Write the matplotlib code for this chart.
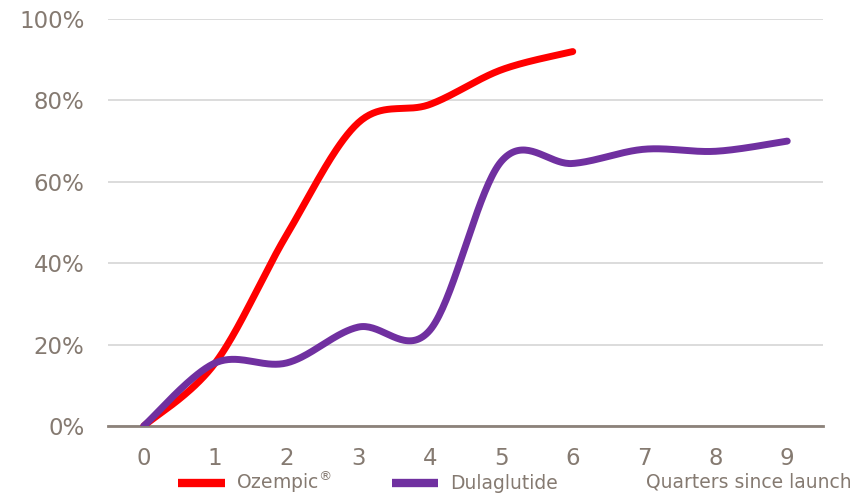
import numpy as np
import matplotlib
matplotlib.use("Agg")
import matplotlib.pyplot as plt
from matplotlib.ticker import FuncFormatter

# ---- data ----
quarters = [0, 1, 2, 3, 4, 5, 6, 7, 8, 9]
ozempic_q = [0, 1, 2, 3, 4, 5, 6]
ozempic = [0.0, 0.155, 0.47, 0.745, 0.79, 0.875, 0.92]
dula_q = [0, 1, 2, 3, 4, 5, 6, 7, 8, 9]
dula = [0.0, 0.155, 0.155, 0.243, 0.235, 0.65, 0.645, 0.68, 0.675, 0.70]
y_ticks = [0, 0.2, 0.4, 0.6, 0.8, 1.0]
series_names = ["Ozempic$^{\\circledR}$", "Dulaglutide"]
x_title = "Quarters since launch"

TEXT = "#857a71"
AXIS = "#8c827a"
GRID = "#d9d9d9"
RED = "#ff0000"
PURPLE = "#7030a0"


def smooth(x, y, n=40):
    """Catmull-Rom style smoothing (like spreadsheet 'smoothed line')."""
    x = np.asarray(x, float)
    y = np.asarray(y, float)
    px = np.concatenate([[x[0]], x, [x[-1]]])
    py = np.concatenate([[y[0]], y, [y[-1]]])
    xs, ys = [], []
    for i in range(1, len(px) - 2):
        mx0 = (px[i + 1] - px[i - 1]) / 2
        mx1 = (px[i + 2] - px[i]) / 2
        my0 = (py[i + 1] - py[i - 1]) / 2
        my1 = (py[i + 2] - py[i]) / 2
        t = np.linspace(0, 1, n)
        h00 = 2 * t**3 - 3 * t**2 + 1
        h10 = t**3 - 2 * t**2 + t
        h01 = -2 * t**3 + 3 * t**2
        h11 = t**3 - t**2
        xs.append(h00 * px[i] + h10 * mx0 + h01 * px[i + 1] + h11 * mx1)
        ys.append(h00 * py[i] + h10 * my0 + h01 * py[i + 1] + h11 * my1)
    return np.concatenate(xs), np.concatenate(ys)


fig = plt.figure(figsize=(8.57, 4.94), dpi=100)
ax = fig.add_axes([108 / 857, 1 - 426 / 494, (823 - 108) / 857, (426 - 19) / 494])

sx, sy = smooth(ozempic_q, ozempic)
ax.plot(sx, sy, color=RED, lw=5, solid_capstyle="round", label=series_names[0], zorder=3)
sx, sy = smooth(dula_q, dula)
ax.plot(sx, sy, color=PURPLE, lw=5, solid_capstyle="round", label=series_names[1], zorder=4)

ax.set_xlim(-0.5, 9.5)
ax.set_ylim(0, 1.0)
ax.set_xticks(quarters)
ax.set_yticks(y_ticks)
ax.yaxis.set_major_formatter(FuncFormatter(lambda v, p: f"{v*100:.0f}%"))
ax.grid(axis="y", color=GRID, lw=1.3)
ax.set_axisbelow(True)
for s in ["top", "right", "left"]:
    ax.spines[s].set_visible(False)
ax.spines["bottom"].set_color(AXIS)
ax.spines["bottom"].set_linewidth(2)
ax.spines["bottom"].set_zorder(2)
ax.tick_params(axis="both", length=0, colors=TEXT, labelsize=16.5)
ax.tick_params(axis="y", pad=17)
ax.tick_params(axis="x", pad=15)

leg = ax.legend(loc="center left", bbox_to_anchor=(178 / 857, 1 - 482 / 494), bbox_transform=fig.transFigure,
                ncol=2, frameon=False, fontsize=13.5, handlelength=2.5, handletextpad=0.6,
                columnspacing=3.2, borderpad=0, borderaxespad=0)
for t in leg.get_texts():
    t.set_color(TEXT)
for h in leg.get_lines():
    h.set_linewidth(6)
    h.set_solid_capstyle("butt")

fig.text(852 / 857, 1 - 482 / 494, x_title, ha="right", va="center", fontsize=13.5, color=TEXT)

fig.savefig("out.png", dpi=100)
